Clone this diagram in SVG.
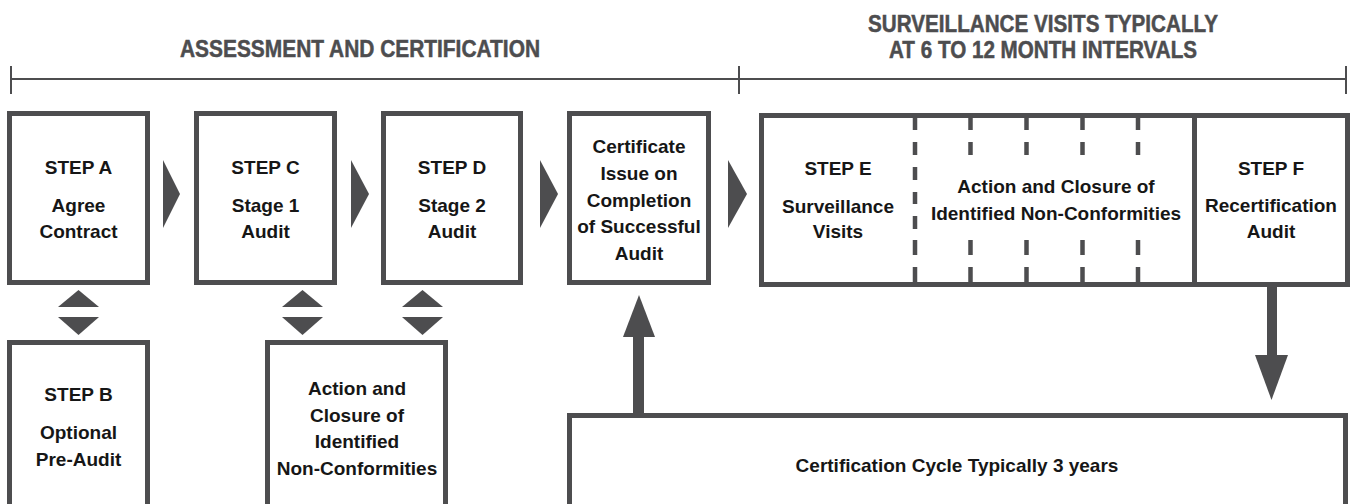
<svg xmlns="http://www.w3.org/2000/svg" width="1351" height="504" viewBox="0 0 1351 504">
<style>
.box{fill:#fff;stroke:#4d4d4f;stroke-width:5}
.t{font-family:"Liberation Sans",Arial,sans-serif;font-weight:bold;font-size:19px;fill:#161616;text-anchor:middle}
.h{font-family:"Liberation Sans",Arial,sans-serif;font-weight:bold;font-size:24px;fill:#4d4d4f;stroke:#4d4d4f;stroke-width:0.5;text-anchor:middle}
.rule{stroke:#4d4d4f;stroke-width:2;fill:none}
.fillg{fill:#4d4d4f}
.dash{stroke:#4d4d4f;stroke-width:4.5;fill:none}
</style>
<rect width="1351" height="504" fill="#fff"/>
<g id="timeline">
<path class="rule" d="M11 79H1346M11 66V94M739 66V94M1346 66V94"/>
<text class="h" x="360" y="57" textLength="360" lengthAdjust="spacingAndGlyphs">ASSESSMENT AND CERTIFICATION</text>
<text class="h" x="1043" y="32" textLength="350" lengthAdjust="spacingAndGlyphs">SURVEILLANCE VISITS TYPICALLY</text>
<text class="h" x="1043" y="58" textLength="308" lengthAdjust="spacingAndGlyphs">AT 6 TO 12 MONTH INTERVALS</text>
</g>
<g id="connectors">
<polygon class="fillg" points="163,160 180,194 163,228"/>
<polygon class="fillg" points="351,160 369,194 351,228"/>
<polygon class="fillg" points="540,160 558,194 540,228"/>
<polygon class="fillg" points="728,160 747,194 728,228"/>
<polygon class="fillg" points="58,307 78.5,290 99,307"/>
<polygon class="fillg" points="58,317 99,317 78.5,335"/>
<polygon class="fillg" points="282,307 302.5,290 323,307"/>
<polygon class="fillg" points="282,317 323,317 302.5,335"/>
<polygon class="fillg" points="402,307 422.5,290 443,307"/>
<polygon class="fillg" points="402,317 443,317 422.5,335"/>
<rect class="fillg" x="633" y="336" width="11" height="78"/>
<polygon class="fillg" points="623,337 655,337 639,295"/>
<rect class="fillg" x="1267" y="286" width="10" height="70"/>
<polygon class="fillg" points="1255,355 1288,355 1271.5,400"/>
</g>
<g id="stepA">
<rect class="box" x="9.5" y="113.5" width="138" height="169"/>
<text class="t" x="78.5" y="174">STEP A</text>
<text class="t" x="78.5" y="212">Agree</text>
<text class="t" x="78.5" y="238">Contract</text>
</g>
<g id="stepC">
<rect class="box" x="196.5" y="113.5" width="138" height="169"/>
<text class="t" x="265.5" y="174">STEP C</text>
<text class="t" x="265.5" y="212">Stage 1</text>
<text class="t" x="265.5" y="238">Audit</text>
</g>
<g id="stepD">
<rect class="box" x="383.5" y="113.5" width="137" height="169"/>
<text class="t" x="452" y="174">STEP D</text>
<text class="t" x="452" y="212">Stage 2</text>
<text class="t" x="452" y="238">Audit</text>
</g>
<g id="certificate">
<rect class="box" x="569.5" y="113.5" width="139" height="169"/>
<text class="t" x="639" y="153">Certificate</text>
<text class="t" x="639" y="180">Issue on</text>
<text class="t" x="639" y="207">Completion</text>
<text class="t" x="639" y="233">of Successful</text>
<text class="t" x="639" y="260">Audit</text>
</g>
<g id="surveillance">
<rect class="box" x="761.5" y="115.5" width="586" height="169"/>
<path class="box" d="M1194.5 115V285"/>
<path class="dash" d="M915 118V130M915 142V155M915 167V180M915 192V204M915 216V229M915 240V255M915 267V282"/>
<path class="dash" d="M970.5 118V130M970.5 142V155M970.5 240V255M970.5 267V282"/>
<path class="dash" d="M1026.5 118V130M1026.5 142V155M1026.5 240V255M1026.5 267V282"/>
<path class="dash" d="M1082.5 118V130M1082.5 142V155M1082.5 240V255M1082.5 267V282"/>
<path class="dash" d="M1138 118V130M1138 142V155M1138 240V255M1138 267V282"/>
<text class="t" x="838" y="175">STEP E</text>
<text class="t" x="838" y="213">Surveillance</text>
<text class="t" x="838" y="238">Visits</text>
<text class="t" x="1056" y="193">Action and Closure of</text>
<text class="t" x="1056" y="220">Identified Non-Conformities</text>
</g>
<g id="stepF">
<text class="t" x="1271" y="175">STEP F</text>
<text class="t" x="1271" y="212">Recertification</text>
<text class="t" x="1271" y="238">Audit</text>
</g>
<g id="stepB">
<rect class="box" x="9.5" y="342.5" width="138" height="200"/>
<text class="t" x="78.5" y="401">STEP B</text>
<text class="t" x="78.5" y="439">Optional</text>
<text class="t" x="78.5" y="466">Pre-Audit</text>
</g>
<g id="actionClosure">
<rect class="box" x="267.5" y="342.5" width="178" height="200"/>
<text class="t" x="357" y="395">Action and</text>
<text class="t" x="357" y="422">Closure of</text>
<text class="t" x="357" y="448">Identified</text>
<text class="t" x="357" y="475">Non-Conformities</text>
</g>
<g id="cycle">
<rect class="box" x="569.5" y="415.5" width="776" height="150"/>
<text class="t" x="957" y="472">Certification Cycle Typically 3 years</text>
</g>
</svg>
